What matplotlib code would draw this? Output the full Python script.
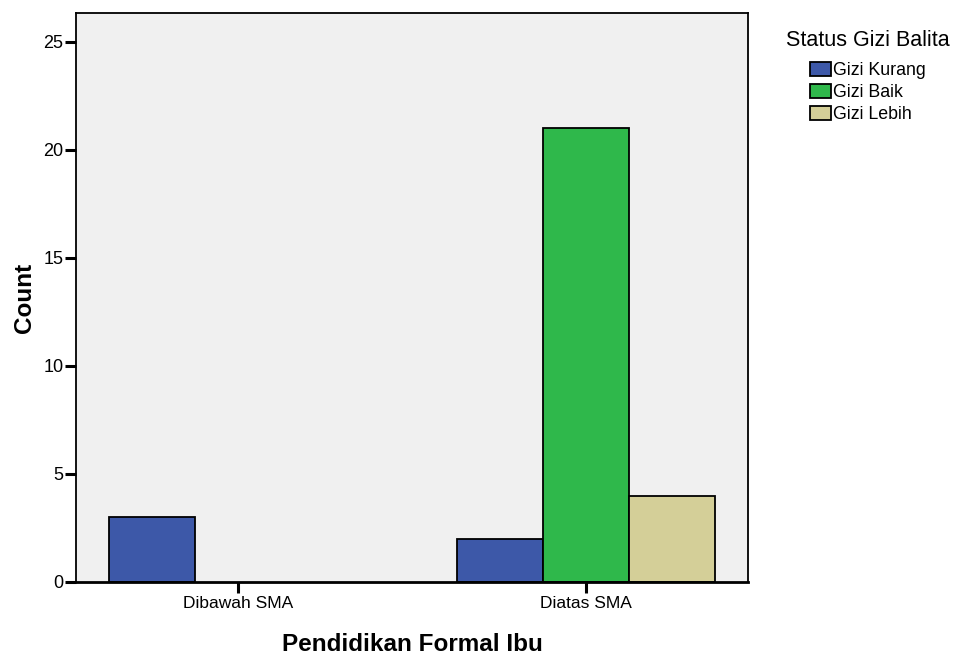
import matplotlib
matplotlib.use("Agg")
import matplotlib.pyplot as plt
import numpy as np

plt.rcParams["font.family"] = ["Liberation Sans", "DejaVu Sans"]

# data
categories = ["Dibawah SMA", "Diatas SMA"]
series_names = ["Gizi Kurang", "Gizi Baik", "Gizi Lebih"]
gizi_kurang = [3, 2]
gizi_baik = [0, 21]
gizi_lebih = [0, 4]
y_ticks = [0, 5, 10, 15, 20, 25]

COLORS = ["#3D58A8", "#2FB84B", "#D4CF98"]
BG = "#F0F0F0"

fig = plt.figure(figsize=(9.59, 6.58), dpi=100)
ax = fig.add_axes([76 / 959, 76 / 658, 672 / 959, 569 / 658])
ax.set_facecolor(BG)

x = np.arange(len(categories))
width = 0.247
for i, (name, vals) in enumerate(zip(series_names, [gizi_kurang, gizi_baik, gizi_lebih])):
    vals = np.asarray(vals, dtype=float)
    keep = vals > 0  # SPSS draws nothing for empty cells
    ax.bar(x[keep] + (i - 1) * width, vals[keep], width, color=COLORS[i],
           edgecolor="black", linewidth=1.3, label=name, zorder=2)

ax.set_xlim(-0.4655, 1.4655)
ax.set_ylim(0, 26.34)
ax.set_yticks(y_ticks)
ax.set_xticks(x)
ax.set_xticklabels(categories)
ax.tick_params(axis="both", direction="out", length=8, width=2.2, labelsize=12.5, pad=2)
ax.tick_params(axis="y", labelsize=13, pad=1)
for side in ("top", "left", "right"):
    ax.spines[side].set_linewidth(1.3)
ax.spines["bottom"].set_linewidth(2.0)

ax.set_ylabel("Count", fontsize=17.5, fontweight="bold", labelpad=5)
ax.set_xlabel("Pendidikan Formal Ibu", fontsize=17.5, fontweight="bold", labelpad=16)

leg = fig.legend(loc="upper center", bbox_to_anchor=(868 / 959, 1 - 14 / 658),
                 title="Status Gizi Balita", frameon=False, fontsize=12.8,
                 title_fontsize=15.5, handlelength=1.15, handleheight=0.8,
                 handletextpad=0.12, labelspacing=0.28)
leg._legend_box.sep = 8
for h in leg.legend_handles:
    h.set_linewidth(1.3)

fig.savefig("out.png", dpi=100)
